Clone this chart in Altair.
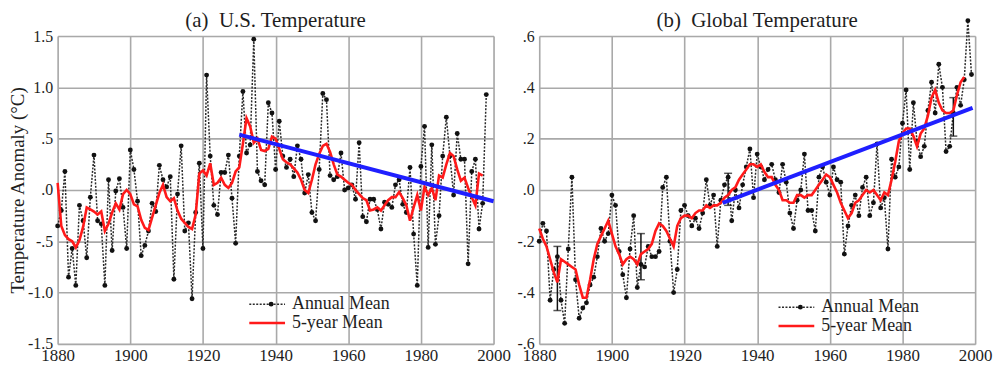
import altair as alt
import pandas as pd

# ---------------- data ----------------
us_years = list(range(1880, 1999))
us_annual = [
    -0.35, -0.20, 0.18, -0.85, -0.57, -0.93, -0.15, -0.30, -0.66, -0.07,
    0.34, -0.30, -0.33, -0.93, 0.10, -0.59, -0.01, 0.11, -0.17, -0.57,
    0.39, 0.20, -0.11, -0.64, -0.54, -0.40, -0.13, -0.21, 0.24, 0.10,
    0.03, 0.13, -0.87, -0.04, 0.43, -0.40, -0.32, -1.06, -0.22, 0.26,
    -0.57, 1.12, 0.33, -0.15, -0.24, 0.17, 0.17, 0.34, -0.08, -0.52,
    0.33, 0.96, 0.36, 0.44, 1.47, 0.18, 0.09, 0.05, 0.85, 0.75,
    0.20, 0.67, 0.33, 0.22, 0.30, 0.13, 0.43, 0.30, -0.03, 0.15,
    -0.22, -0.30, 0.20, 0.94, 0.88, 0.14, 0.10, 0.13, 0.36, 0.00,
    0.02, 0.05, -0.09, 0.46, -0.26, -0.31, -0.09, -0.09, -0.19, -0.38,
    -0.12, -0.14, -0.17, 0.05, 0.10, -0.14, -0.22, 0.22, -0.43, -0.93,
    0.23, 0.62, -0.56, 0.44, -0.53, -0.25, 0.33, 0.71, 0.33, -0.05,
    0.55, 0.30, 0.30, -0.72, 0.18, 0.30, -0.38, -0.13, 0.93,
]
us_5yr_years = list(range(1880, 1998))
us_5yr = [
    0.07, -0.35, -0.44, -0.48, -0.50, -0.56, -0.49, -0.36, -0.17, -0.19,
    -0.21, -0.24, -0.21, -0.40, -0.33, -0.22, -0.13, -0.19, -0.04, 0.00,
    -0.04, -0.14, -0.16, -0.29, -0.37, -0.39, -0.27, -0.15, -0.03, 0.05,
    -0.07, -0.11, -0.08, -0.20, -0.28, -0.32, -0.36, -0.38, -0.24, 0.16,
    0.19, 0.14, 0.26, 0.05, 0.07, 0.12, 0.05, 0.02, 0.07, 0.18,
    0.22, 0.45, 0.70, 0.62, 0.46, 0.50, 0.39, 0.38, 0.40, 0.52,
    0.50, 0.40, 0.30, 0.27, 0.25, 0.21, 0.17, 0.10, 0.00, -0.03,
    0.10, 0.25, 0.35, 0.43, 0.45, 0.37, 0.25, 0.15, 0.13, 0.10,
    0.07, 0.05, 0.00, -0.04, -0.08, -0.10, -0.20, -0.19, -0.17, -0.20,
    -0.15, -0.10, -0.07, -0.07, -0.02, -0.08, -0.15, -0.30, -0.17, -0.05,
    -0.20, 0.03, -0.05, 0.02, -0.10, 0.14, 0.12, 0.25, 0.36, 0.33,
    0.20, 0.09, 0.12, 0.02, -0.07, -0.15, 0.16, 0.14,
]
us_trend_years = [1930, 2000]
us_trend = [0.54, -0.11]

gl_years = list(range(1880, 2000))
gl_annual = [
    -0.20, -0.13, -0.16, -0.43, -0.31, -0.26, -0.43, -0.52, -0.23, 0.05,
    -0.35, -0.50, -0.46, -0.44, -0.37, -0.34, -0.26, -0.15, -0.20, -0.17,
    -0.02, -0.06, -0.24, -0.33, -0.42, -0.23, -0.10, -0.38, -0.29, -0.30,
    -0.22, -0.26, -0.26, -0.24, 0.01, 0.05, -0.20, -0.40, -0.31, -0.08,
    -0.06, -0.10, -0.14, -0.11, -0.15, -0.09, 0.04, -0.06, -0.02, -0.22,
    -0.04, 0.02, 0.05, -0.12, 0.00, -0.07, 0.02, 0.09, 0.16, -0.03,
    0.14, 0.09, 0.04, 0.08, 0.10, 0.04, -0.01, 0.10, 0.03, -0.09,
    -0.15, -0.04, 0.00, 0.14, -0.08, -0.08, -0.16, 0.05, 0.09, 0.03,
    -0.02, 0.09, 0.04, 0.03, -0.25, -0.14, -0.06, -0.02, -0.10, 0.01,
    0.05, -0.10, -0.05, 0.18, -0.07, -0.03, -0.23, 0.12, 0.05, 0.09,
    0.26, 0.39, 0.08, 0.34, 0.19, 0.13, 0.17, 0.31, 0.42, 0.30,
    0.49, 0.40, 0.15, 0.17, 0.30, 0.40, 0.33, 0.43, 0.66, 0.45,
]
gl_5yr_years = list(range(1880, 1998))
gl_5yr = [
    -0.15, -0.19, -0.22, -0.27, -0.32, -0.36, -0.27, -0.28, -0.29, -0.30,
    -0.31, -0.37, -0.42, -0.42, -0.35, -0.27, -0.21, -0.18, -0.15, -0.12,
    -0.17, -0.22, -0.25, -0.29, -0.27, -0.26, -0.27, -0.29, -0.25, -0.24,
    -0.23, -0.21, -0.16, -0.13, -0.14, -0.16, -0.19, -0.22, -0.14, -0.11,
    -0.10, -0.10, -0.11, -0.09, -0.08, -0.08, -0.06, -0.07, -0.06, -0.06,
    -0.05, -0.03, -0.02, 0.00, 0.01, 0.04, 0.06, 0.08, 0.10, 0.10,
    0.09, 0.10, 0.07, 0.05, 0.05, 0.02, 0.00, -0.04, -0.04, -0.05,
    -0.05, -0.02, -0.02, -0.03, -0.02, -0.02, 0.00, 0.02, 0.04, 0.06,
    0.05, 0.02, -0.01, -0.05, -0.08, -0.11, -0.09, -0.05, -0.04, -0.02,
    0.00, -0.01, 0.00, -0.02, -0.04, -0.01, -0.02, 0.04, 0.11, 0.19,
    0.22, 0.24, 0.24, 0.21, 0.17, 0.22, 0.24, 0.29, 0.36, 0.39,
    0.34, 0.31, 0.30, 0.30, 0.31, 0.37, 0.42, 0.44,
]
gl_trend_years = [1930.5, 1999.3]
gl_trend = [-0.05, 0.32]
gl_err_years = [1885, 1908, 1932, 1994]
gl_err_low = [-0.47, -0.35, -0.06, 0.21]
gl_err_high = [-0.22, -0.17, 0.065, 0.36]

titles = ["(a)\u00a0\u00a0U.S. Temperature", "(b)\u00a0\u00a0Global Temperature"]
y_title = "Temperature Anomaly (°C)"
legend_labels = ["Annual Mean", "5-year Mean"]
x_ticks = list(range(1880, 2001, 10))
us_y_ticks = [-1.5, -1.0, -0.5, 0.0, 0.5, 1.0, 1.5]
gl_y_ticks = [-0.6, -0.4, -0.2, 0.0, 0.2, 0.4, 0.6]

# ---------------- styling ----------------
FONT = "Liberation Serif"
W, H = 439, 310
GRID = "#a9a9a9"
INK = "#1e1e1e"
LABEL_EXPR = ("(datum.value < 0 ? '-' : '') + (abs(datum.value) >= 1 ? "
              "format(abs(datum.value), '.1f') : '.' + format(abs(datum.value) * 10, '.0f'))")


def panel(title, years, annual, f_years, five, t_years, trend, ydom, yticks,
          show_ytitle, legend_pos, err=None):
    x_enc = alt.X("year:Q", scale=alt.Scale(domain=[1880, 2000], nice=False, zero=False),
                  axis=alt.Axis(values=x_ticks, title=None, grid=True, gridColor=GRID,
                                gridWidth=1.6, ticks=False, domain=False,
                                labelExpr="datum.value % 20 == 0 ? datum.value : ''",
                                labelOverlap=False, labelFont=FONT, labelFontSize=17,
                                labelColor=INK, labelPadding=4, labelFlush=False))
    y_axis = alt.Axis(values=yticks, grid=True, gridColor=GRID, gridWidth=1.6,
                      ticks=False, domain=False, labelExpr=LABEL_EXPR,
                      labelOverlap=False, labelFont=FONT, labelFontSize=16,
                      labelColor=INK, labelPadding=5,
                      title=y_title if show_ytitle else None,
                      titleFont=FONT, titleFontSize=19, titleFontWeight="normal",
                      titleColor=INK, titlePadding=0)
    y_enc = alt.Y("value:Q", scale=alt.Scale(domain=ydom, nice=False, zero=False), axis=y_axis)
    y_plain = alt.Y("value:Q")

    ann_df = pd.DataFrame({"year": years, "value": annual})
    five_df = pd.DataFrame({"year": f_years, "value": five})
    tr_df = pd.DataFrame({"year": t_years, "value": trend})

    base_line = alt.Chart(ann_df).mark_line(color="#2a2a2a", strokeWidth=1.5,
                                            strokeDash=[2, 1.5], clip=False).encode(x=x_enc, y=y_enc)
    pts = alt.Chart(ann_df).mark_circle(color="#111", size=24, opacity=1, clip=False).encode(
        x="year:Q", y=y_plain)
    layers = [base_line, pts]
    if err is not None:
        err_df = pd.DataFrame({"year": err[0], "lo": err[1], "hi": err[2]})
        layers.append(alt.Chart(err_df).mark_rule(color="#111", strokeWidth=1.5).encode(
            x="year:Q", y="lo:Q", y2="hi:Q"))
        layers.append(alt.Chart(err_df).mark_tick(color="#111", orient="horizontal", size=8,
                                                   thickness=1.5).encode(x="year:Q", y="lo:Q"))
        layers.append(alt.Chart(err_df).mark_tick(color="#111", orient="horizontal", size=8,
                                                   thickness=1.5).encode(x="year:Q", y="hi:Q"))
    layers.append(alt.Chart(five_df).mark_line(color="#ff1a1a", strokeWidth=2.6).encode(
        x="year:Q", y=y_plain))
    layers.append(alt.Chart(tr_df).mark_line(color="#1f1fff", strokeWidth=4).encode(
        x="year:Q", y=y_plain))

    # legend (drawn in pixel space of the panel)
    lx, ly = legend_pos
    leg1 = pd.DataFrame({"label": [legend_labels[0]]})
    leg2 = pd.DataFrame({"label": [legend_labels[1]]})
    layers.append(alt.Chart(leg1).mark_rule(color="#2a2a2a", strokeWidth=1.5, strokeDash=[2, 1.5]).encode(
        x=alt.value(lx), x2=alt.value(lx + 36), y=alt.value(ly)))
    layers.append(alt.Chart(leg1).mark_circle(color="#111", size=24, opacity=1).encode(
        x=alt.value(lx + 22), y=alt.value(ly)))
    layers.append(alt.Chart(leg2).mark_rule(color="#ff1a1a", strokeWidth=2.6).encode(
        x=alt.value(lx), x2=alt.value(lx + 36), y=alt.value(ly + 19)))
    layers.append(alt.Chart(leg1).mark_text(align="left", baseline="middle", font=FONT,
                                            fontSize=18, color=INK).encode(
        text="label:N", x=alt.value(lx + 43), y=alt.value(ly)))
    layers.append(alt.Chart(leg2).mark_text(align="left", baseline="middle", font=FONT,
                                            fontSize=18, color=INK).encode(
        text="label:N", x=alt.value(lx + 43), y=alt.value(ly + 19)))

    # panel title, placed just above the plot frame
    ttl = pd.DataFrame({"label": [title]})
    layers.append(alt.Chart(ttl).mark_text(align="center", baseline="alphabetic", font=FONT,
                                           fontSize=21, color=INK).encode(
        text="label:N", x=alt.value(W / 2), y=alt.value(-9)))

    return alt.layer(*layers).properties(width=W, height=H)


left = panel(titles[0], us_years, us_annual, us_5yr_years, us_5yr, us_trend_years, us_trend,
             [-1.5, 1.5], us_y_ticks, True, (193, 270))
right = panel(titles[1], gl_years, gl_annual, gl_5yr_years, gl_5yr, gl_trend_years, gl_trend,
              [-0.6, 0.6], gl_y_ticks, False, (241, 273),
              err=(gl_err_years, gl_err_low, gl_err_high))

chart = alt.hconcat(left, right, spacing=46, bounds="flush").properties(
    padding={"left": 0, "top": 0, "right": 0, "bottom": 0}
).configure_view(stroke="#222", strokeWidth=2).configure(background="white")

chart.save("out.html", embed_options={"renderer": "svg", "actions": False})
